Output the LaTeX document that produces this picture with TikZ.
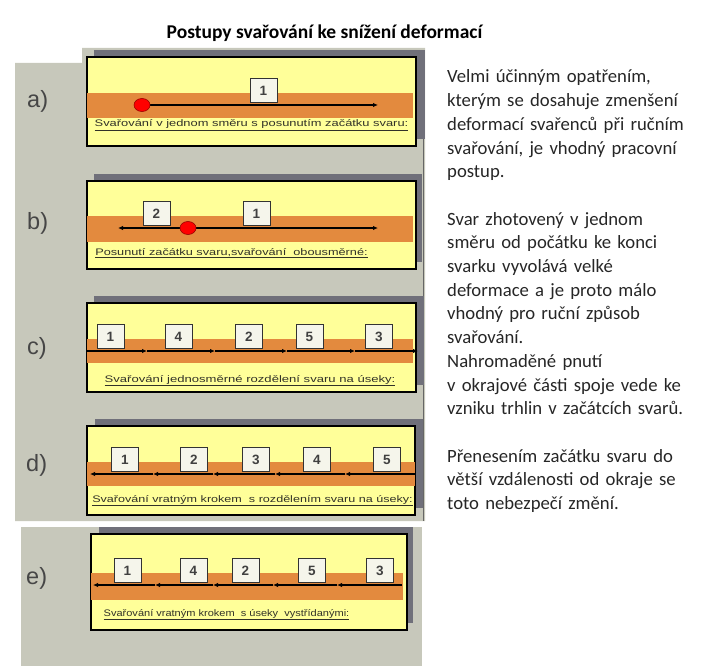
\documentclass[tikz,border=0pt]{standalone}
\usepackage{fontspec}
\setmainfont{Carlito}
\newfontfamily\arialf{Liberation Sans}
\usetikzlibrary{arrows.meta,shapes.geometric}
\definecolor{bggray}{RGB}{199,200,187}
\definecolor{shadowgray}{RGB}{112,112,122}
\definecolor{panelyellow}{RGB}{255,255,153}
\definecolor{bandorange}{RGB}{227,138,62}
\definecolor{boxfill}{RGB}{245,245,235}
\definecolor{labelgray}{RGB}{70,70,70}
\definecolor{captiongray}{RGB}{50,50,40}
\tikzset{
  region/.style={fill=bggray, draw=none},
  shadowbox/.style={fill=shadowgray, draw=none},
  panelbox/.style={fill=panelyellow, draw=black, line width=1.2pt},
  band/.style={fill=bandorange, draw=none},
  weld/.style={draw=black, line width=1.8pt, -{Latex[length=5pt,width=4.5pt]}},
  numbox/.style={draw=black!80, line width=0.9pt, fill=boxfill, minimum width=27pt, minimum height=24pt, inner sep=0pt, anchor=south, font=\arialf\bfseries\fontsize{13.5}{14}\selectfont, text=black!75},
  rowlabel/.style={anchor=west, inner sep=0pt, font=\arialf\fontsize{23.5}{24}\selectfont, text=labelgray},
  caption/.style={anchor=base, inner sep=0pt, font=\arialf\fontsize{9.5}{10}\selectfont, text=captiongray},
  startdot/.style={ellipse, fill=red, draw=red!60!black, line width=0.6pt, minimum width=16pt, minimum height=13pt, inner sep=0pt},
}
\newcommand{\ulcap}[2]{\scalebox{#1}[1]{\underline{#2}}}
\begin{document}
\begin{tikzpicture}[x=1pt,y=-1pt]
\useasboundingbox (0,0) rectangle (726,666);
% background regions
\fill[region] (82,48) -- (425,48) -- (425,521) -- (15,521) -- (15,63) -- (82,63) -- cycle;
\fill[region] (21,527) rectangle (422,666);
\draw[black!60, line width=0.8pt] (423,57) -- (423,521);
% title
\node[anchor=base, inner sep=0pt, font=\bfseries\fontsize{19.5}{21}\selectfont] (title) at (324.5,39) {Postupy svařování ke snížení deformací};

% ---------- a) ----------
\node[rowlabel] (la) at (27,101) {a)};
\fill[shadowbox] (94,50) rectangle (425,139);
\draw[panelbox] (87,57) rectangle (416,146);
\fill[band] (87,93) rectangle (413,118);
\coordinate (a0) at (142,105);
\coordinate (a1) at (378,105);
\draw[weld] (a0) -- (a1);
\node[numbox] (a-n1) at (263.5,103) {1};
\node[startdot] (a-dot) at (a0) {};
\node[caption] (a-cap) at (251.5,127) {\ulcap{1.356}{Svařování v jednom směru s posunutím začátku svaru:}};

% ---------- b) ----------
\node[rowlabel] (lb) at (27,223) {b)};
\fill[shadowbox] (94,174) rectangle (422,262);
\draw[panelbox] (87,181) rectangle (416,269);
\fill[band] (87,216) rectangle (413,242);
\coordinate (b0) at (188,228);
\coordinate (bL) at (118,228);
\coordinate (bR) at (378,228);
\draw[weld] (b0) -- (bR);
\draw[weld] (b0) -- (bL);
\node[numbox] (b-n2) at (156.5,226) {2};
\node[numbox] (b-n1) at (256.5,226) {1};
\node[startdot] (b-dot) at (b0) {};
\node[caption] (b-cap) at (231.5,255) {\ulcap{1.34}{Posunutí začátku svaru,svařování\ \ obousměrné:}};

% ---------- c) ----------
\node[rowlabel] (lc) at (27,348) {c)};
\fill[shadowbox] (94,296) rectangle (424,385);
\draw[panelbox] (87,303) rectangle (416,392);
\fill[band] (87,339) rectangle (413,363);
\coordinate (c0) at (87,351);
\coordinate (c1) at (147,351);
\coordinate (c2) at (215,351);
\coordinate (c3) at (287,351);
\coordinate (c4) at (355,351);
\coordinate (c5) at (418,351);
\draw[weld] (c0) -- (c1);
\draw[weld] (c1) -- (c2);
\draw[weld] (c2) -- (c3);
\draw[weld] (c3) -- (c4);
\draw[weld] (c4) -- (c5);
\node[numbox] (c-n1) at (110.5,349) {1};
\node[numbox] (c-n4) at (178.5,349) {4};
\node[numbox] (c-n2) at (249,349) {2};
\node[numbox] (c-n5) at (309.5,349) {5};
\node[numbox] (c-n3) at (379,349) {3};
\node[caption] (c-cap) at (250,382) {\ulcap{1.376}{Svařování jednosměrné rozdělení svaru na úseky:}};

% ---------- d) ----------
\node[rowlabel] (ld) at (26,465) {d)};
\fill[shadowbox] (95,419) rectangle (423,508);
\draw[panelbox] (87,426) rectangle (415,515);
\fill[band] (87,462) rectangle (415,486);
\coordinate (d5) at (415,474);
\coordinate (d4) at (345,474);
\coordinate (d3) at (275,474);
\coordinate (d2) at (213,474);
\coordinate (d1) at (153,474);
\coordinate (d0) at (90,474);
\draw[weld] (d5) -- (d4);
\draw[weld] (d4) -- (d3);
\draw[weld] (d3) -- (d2);
\draw[weld] (d2) -- (d1);
\draw[weld] (d1) -- (d0);
\node[numbox] (d-n1) at (125,472) {1};
\node[numbox] (d-n2) at (194,472) {2};
\node[numbox] (d-n3) at (256,472) {3};
\node[numbox] (d-n4) at (317,472) {4};
\node[numbox] (d-n5) at (387,472) {5};
\node[caption] (d-cap) at (252.5,502) {\ulcap{1.325}{Svařování vratným krokem\ \ s rozdělením svaru na úseky:}};

% ---------- e) ----------
\node[rowlabel] (le) at (26,578) {e)};
\fill[shadowbox] (99,527) rectangle (413,623);
\draw[panelbox] (91,534) rectangle (407,630);
\fill[band] (91,573) rectangle (403,600);
\coordinate (e5) at (402,585);
\coordinate (e4) at (337,585);
\coordinate (e3) at (273,585);
\coordinate (e2) at (213,585);
\coordinate (e1) at (155,585);
\coordinate (e0) at (93,585);
\draw[weld] (e5) -- (e4);
\draw[weld] (e4) -- (e3);
\draw[weld] (e3) -- (e2);
\draw[weld] (e2) -- (e1);
\draw[weld] (e1) -- (e0);
\node[numbox] (e-n1) at (127.5,583) {1};
\node[numbox] (e-n4) at (193.5,583) {4};
\node[numbox] (e-n2) at (245.5,583) {2};
\node[numbox] (e-n5) at (312,583) {5};
\node[numbox] (e-n3) at (380,583) {3};
\node[caption] (e-cap) at (226.5,616) {\ulcap{1.16}{Svařování vratným krokem\ \ s úseky\ \ vystřídanými:}};

% ---------- right text ----------
\node[anchor=base west, inner sep=0pt, text width=275pt, align=left, font=\fontsize{18.7}{23.7}\selectfont, text=black!85] (body) at (447,83) {%
Velmi účinným opatřením,\\
kterým se dosahuje zmenšení\\
deformací svařenců při ručním\\
svařování, je vhodný pracovní\\
postup.\\[23.7pt]
Svar zhotovený v jednom\\
směru od počátku ke konci\\
svarku vyvolává velké\\
deformace a je proto málo\\
vhodný pro ruční způsob\\
svařování.\\
Nahromaděné pnutí\\
v okrajové části spoje vede ke\\
vzniku trhlin v začátcích svarů.\\[23.7pt]
Přenesením začátku svaru do\\
větší vzdálenosti od okraje se\\
toto nebezpečí změní.};
\end{tikzpicture}
\end{document}
